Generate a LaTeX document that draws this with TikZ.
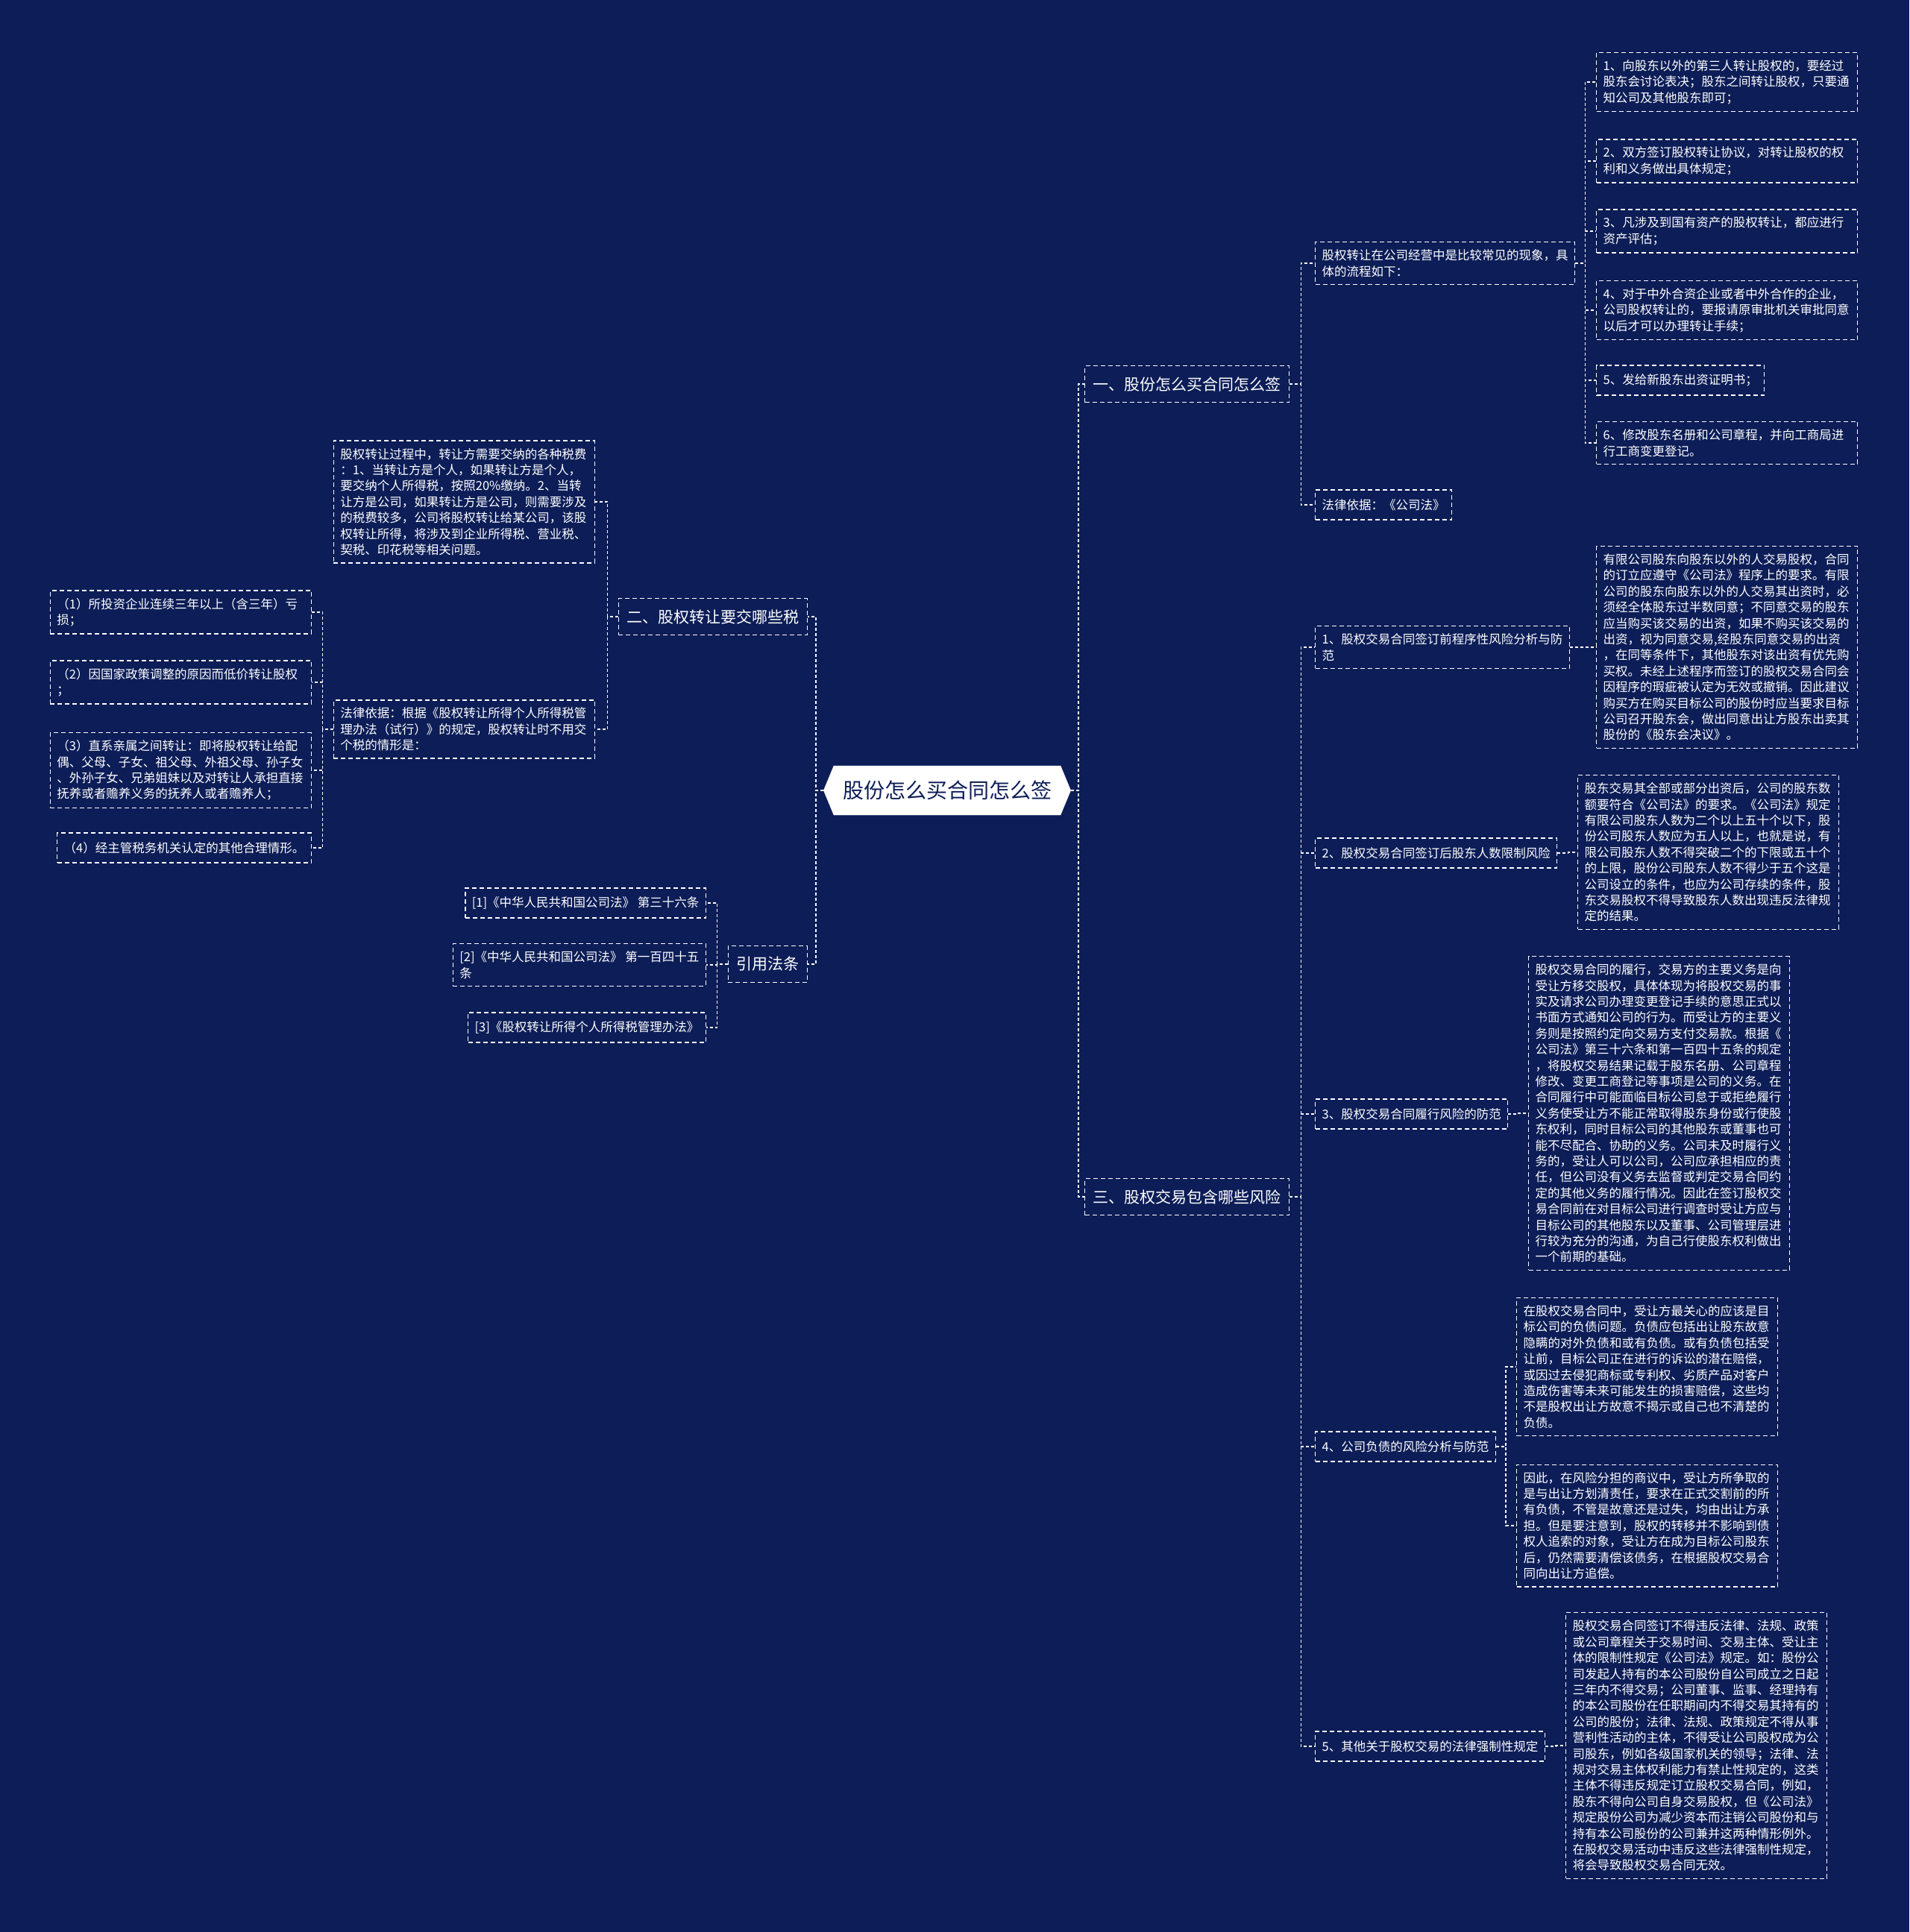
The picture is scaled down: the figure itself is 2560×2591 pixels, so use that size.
\documentclass[tikz,border=0pt]{standalone}
\usepackage{fontspec}
\setmainfont{Noto Sans CJK SC}
\usetikzlibrary{shapes.symbols}
\definecolor{bg}{HTML}{0C1D57}
\begin{document}
\begin{tikzpicture}[x=1pt,y=-1pt,
  leaf/.style={draw=white, line width=1.3pt, dash pattern=on 6pt off 4pt, text=white,
    font=\fontsize{16.5}{21.4}\selectfont, align=left, inner xsep=9pt, inner ysep=10pt,
    minimum height=40pt},
  wide/.style={leaf, text width=332pt},
  main/.style={leaf, font=\fontsize{21}{26}\selectfont, inner xsep=11pt, minimum height=49pt},
  root/.style={signal, signal to=west and east, signal pointer angle=135, fill=white, draw=white,
    text=bg, font=\fontsize{28}{32}\selectfont, minimum width=330pt, minimum height=66pt, inner xsep=12pt},
  link/.style={draw=white, line width=1.3pt, dash pattern=on 4pt off 3pt}]
\fill[bg] (0,0) rectangle (2560,2591);
\useasboundingbox (0,0) rectangle (2560,2591);

% root and main branches
\node[root] (r) at (1270,1060) {股份怎么买合同怎么签};
\node[main, anchor=west] (a) at (1454,515) {一、股份怎么买合同怎么签};
\node[main, anchor=west] (c) at (1454,1605) {三、股权交易包含哪些风险};
\node[main, anchor=east] (b) at (1083,827) {二、股权转让要交哪些税};
\node[main, anchor=east] (d) at (1083,1293) {引用法条};

% branch one
\node[leaf, anchor=west] (a1) at (1763,353) {股权转让在公司经营中是比较常见的现象，具\\体的流程如下：};
\node[leaf, anchor=west] (a2) at (1763,677) {法律依据：《公司法》};
\node[wide, anchor=west] (a11) at (2140,110) {1、向股东以外的第三人转让股权的，要经过\\股东会讨论表决；股东之间转让股权，只要通\\知公司及其他股东即可；};
\node[wide, anchor=west] (a12) at (2140,216) {2、双方签订股权转让协议，对转让股权的权\\利和义务做出具体规定；};
\node[wide, anchor=west] (a13) at (2140,310) {3、凡涉及到国有资产的股权转让，都应进行\\资产评估；};
\node[wide, anchor=west] (a14) at (2140,416) {4、对于中外合资企业或者中外合作的企业，\\公司股权转让的，要报请原审批机关审批同意\\以后才可以办理转让手续；};
\node[leaf, anchor=west] (a15) at (2140,510) {5、发给新股东出资证明书；};
\node[wide, anchor=west] (a16) at (2140,594) {6、修改股东名册和公司章程，并向工商局进\\行工商变更登记。};

% branch three
\node[leaf, anchor=west] (c1) at (1763,868) {1、股权交易合同签订前程序性风险分析与防\\范};
\node[leaf, anchor=west] (c2) at (1763,1144) {2、股权交易合同签订后股东人数限制风险};
\node[leaf, anchor=west] (c3) at (1763,1494) {3、股权交易合同履行风险的防范};
\node[leaf, anchor=west] (c4) at (1763,1940) {4、公司负债的风险分析与防范};
\node[leaf, anchor=west] (c5) at (1763,2342) {5、其他关于股权交易的法律强制性规定};

\node[wide, anchor=west] (c11) at (2140,868) {有限公司股东向股东以外的人交易股权，合同\\的订立应遵守《公司法》程序上的要求。有限\\公司的股东向股东以外的人交易其出资时，必\\须经全体股东过半数同意；不同意交易的股东\\应当购买该交易的出资，如果不购买该交易的\\出资，视为同意交易,经股东同意交易的出资\\，在同等条件下，其他股东对该出资有优先购\\买权。未经上述程序而签订的股权交易合同会\\因程序的瑕疵被认定为无效或撤销。因此建议\\购买方在购买目标公司的股份时应当要求目标\\公司召开股东会，做出同意出让方股东出卖其\\股份的《股东会决议》。};
\node[wide, anchor=west] (c21) at (2115,1143) {股东交易其全部或部分出资后，公司的股东数\\额要符合《公司法》的要求。《公司法》规定\\有限公司股东人数为二个以上五十个以下，股\\份公司股东人数应为五人以上，也就是说，有\\限公司股东人数不得突破二个的下限或五十个\\的上限，股份公司股东人数不得少于五个这是\\公司设立的条件，也应为公司存续的条件，股\\东交易股权不得导致股东人数出现违反法律规\\定的结果。};
\node[wide, anchor=west] (c31) at (2049,1493) {股权交易合同的履行，交易方的主要义务是向\\受让方移交股权，具体体现为将股权交易的事\\实及请求公司办理变更登记手续的意思正式以\\书面方式通知公司的行为。而受让方的主要义\\务则是按照约定向交易方支付交易款。根据《\\公司法》第三十六条和第一百四十五条的规定\\，将股权交易结果记载于股东名册、公司章程\\修改、变更工商登记等事项是公司的义务。在\\合同履行中可能面临目标公司怠于或拒绝履行\\义务使受让方不能正常取得股东身份或行使股\\东权利，同时目标公司的其他股东或董事也可\\能不尽配合、协助的义务。公司未及时履行义\\务的，受让人可以公司，公司应承担相应的责\\任，但公司没有义务去监督或判定交易合同约\\定的其他义务的履行情况。因此在签订股权交\\易合同前在对目标公司进行调查时受让方应与\\目标公司的其他股东以及董事、公司管理层进\\行较为充分的沟通，为自己行使股东权利做出\\一个前期的基础。};
\node[wide, anchor=west] (c41) at (2033,1833) {在股权交易合同中，受让方最关心的应该是目\\标公司的负债问题。负债应包括出让股东故意\\隐瞒的对外负债和或有负债。或有负债包括受\\让前，目标公司正在进行的诉讼的潜在赔偿，\\或因过去侵犯商标或专利权、劣质产品对客户\\造成伤害等未来可能发生的损害赔偿，这些均\\不是股权出让方故意不揭示或自己也不清楚的\\负债。};
\node[wide, anchor=west] (c42) at (2033,2046) {因此，在风险分担的商议中，受让方所争取的\\是与出让方划清责任，要求在正式交割前的所\\有负债，不管是故意还是过失，均由出让方承\\担。但是要注意到，股权的转移并不影响到债\\权人追索的对象，受让方在成为目标公司股东\\后，仍然需要清偿该债务，在根据股权交易合\\同向出让方追偿。};
\node[wide, anchor=west] (c51) at (2099,2341) {股权交易合同签订不得违反法律、法规、政策\\或公司章程关于交易时间、交易主体、受让主\\体的限制性规定《公司法》规定。如：股份公\\司发起人持有的本公司股份自公司成立之日起\\三年内不得交易；公司董事、监事、经理持有\\的本公司股份在任职期间内不得交易其持有的\\公司的股份；法律、法规、政策规定不得从事\\营利性活动的主体，不得受让公司股权成为公\\司股东，例如各级国家机关的领导；法律、法\\规对交易主体权利能力有禁止性规定的，这类\\主体不得违反规定订立股权交易合同，例如，\\股东不得向公司自身交易股权，但《公司法》\\规定股份公司为减少资本而注销公司股份和与\\持有本公司股份的公司兼并这两种情形例外。\\在股权交易活动中违反这些法律强制性规定，\\将会导致股权交易合同无效。};

% branch two
\node[wide, anchor=east] (b1) at (798,673) {股权转让过程中，转让方需要交纳的各种税费\\：1、当转让方是个人，如果转让方是个人，\\要交纳个人所得税，按照20\%缴纳。2、当转\\让方是公司，如果转让方是公司，则需要涉及\\的税费较多，公司将股权转让给某公司，该股\\权转让所得，将涉及到企业所得税、营业税、\\契税、印花税等相关问题。};
\node[wide, anchor=east] (b2) at (798,978) {法律依据：根据《股权转让所得个人所得税管\\理办法（试行）》的规定，股权转让时不用交\\个税的情形是：};
\node[wide, anchor=east] (b21) at (418,821) {（1）所投资企业连续三年以上（含三年）亏\\损；};
\node[wide, anchor=east] (b22) at (418,915) {（2）因国家政策调整的原因而低价转让股权\\；};
\node[wide, anchor=east] (b23) at (418,1033) {（3）直系亲属之间转让：即将股权转让给配\\偶、父母、子女、祖父母、外祖父母、孙子女\\、外孙子女、兄弟姐妹以及对转让人承担直接\\抚养或者赡养义务的抚养人或者赡养人；};
\node[leaf, anchor=east] (b24) at (418,1137) {（4）经主管税务机关认定的其他合理情形。};

% citations
\node[leaf, anchor=east] (d1) at (947,1211) {[1]《中华人民共和国公司法》 第三十六条};
\node[leaf, anchor=east] (d2) at (947,1294) {[2]《中华人民共和国公司法》 第一百四十五\\条};
\node[leaf, anchor=east] (d3) at (947,1378) {[3]《股权转让所得个人所得税管理办法》};

% connectors
\foreach \t in {a,c} \draw[link] (r.east) -- ++(10,0) |- (\t.west);
\foreach \t in {b,d} \draw[link] (r.west) -- ++(-10,0) |- (\t.east);
\foreach \t in {a1,a2} \draw[link] (a.east) -- ++(15,0) |- (\t.west);
\foreach \t in {a11,a12,a13,a14,a15,a16} \draw[link] (a1.east) -- ++(13,0) |- (\t.west);
\foreach \t in {c1,c2,c3,c4,c5} \draw[link] (c.east) -- ++(15,0) |- (\t.west);
\draw[link] (c1.east) -- ++(14,0) |- (c11.west);
\draw[link] (c2.east) -- ++(14,0) |- (c21.west);
\draw[link] (c3.east) -- ++(13,0) |- (c31.west);
\foreach \t in {c41,c42} \draw[link] (c4.east) -- ++(13,0) |- (\t.west);
\draw[link] (c5.east) -- ++(14,0) |- (c51.west);
\foreach \t in {b1,b2} \draw[link] (b.west) -- ++(-14,0) |- (\t.east);
\foreach \t in {b21,b22,b23,b24} \draw[link] (b2.west) -- ++(-14,0) |- (\t.east);
\foreach \t in {d1,d2,d3} \draw[link] (d.west) -- ++(-14,0) |- (\t.east);
\end{tikzpicture}
\end{document}
